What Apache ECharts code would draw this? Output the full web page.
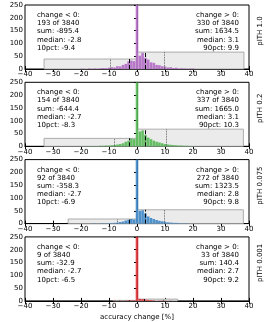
<!DOCTYPE html>
<html><head><meta charset="utf-8">
<script src="https://cdn.jsdelivr.net/npm/echarts@6/dist/echarts.min.js"></script>
<style>html,body{margin:0;padding:0;background:#fff}#c{width:269px;height:322px}</style>
</head><body><div id="c"></div>
<script>
// ---- data ----
var panelNames = ['pITH 1.0', 'pITH 0.2', 'pITH 0.075', 'pITH 0.001'];
var binCenters = [-20,-19,-18,-17,-16,-15,-14,-13,-12,-11,-10,-9,-8,-7,-6,-5,-4,-3,-2,-1,0,1,2,3,4,5,6,7,8,9,10,11,12,13,14,15,16,17,18,19,20];
var counts1 = [1,1,0,2,1,2,1,3,4,3,5,7,6,11,10,16,20,30,33,31,3317,52,63,44,37,26,24,16,15,11,10,6,7,4,5,2,3,2,1,2,2];
var counts2 = [0,1,0,1,1,1,1,2,2,3,3,4,5,7,9,12,18,22,30,28,3349,58,62,44,34,28,22,18,15,12,9,7,6,5,4,3,3,2,2,1,1];
var counts3 = [0,0,0,0,0,1,0,1,1,1,2,2,3,4,6,8,12,15,18,16,3476,50,52,40,28,22,18,14,11,9,7,5,4,3,3,2,1,1,1,0,0];
var counts4 = [0,0,0,0,0,0,0,0,0,0,0,0,1,0,1,0,1,2,2,2,3798,8,7,5,4,3,2,0,1,1,1,0,1,0,0,0,0,0,0,0,0];
var allCounts = [counts1, counts2, counts3, counts4];
var negText = [
  ['change < 0:', '193 of 3840', 'sum: -895.4', 'median: -2.8', '10pct: -9.4'],
  ['change < 0:', '154 of 3840', 'sum: -644.4', 'median: -2.7', '10pct: -8.3'],
  ['change < 0:', '92 of 3840', 'sum: -358.3', 'median: -2.7', '10pct: -6.9'],
  ['change < 0:', '9 of 3840', 'sum: -32.9', 'median: -2.7', '10pct: -6.5']
];
var posText = [
  ['change > 0:', '330 of 3840', 'sum: 1634.5', 'median: 3.1', '90pct: 9.9'],
  ['change > 0:', '337 of 3840', 'sum: 1665.0', 'median: 3.1', '90pct: 10.3'],
  ['change > 0:', '272 of 3840', 'sum: 1323.5', 'median: 2.8', '90pct: 9.8'],
  ['change > 0:', '33 of 3840', 'sum: 140.4', 'median: 2.7', '90pct: 9.2']
];
var negMin = [-33.2, -33.2, -24.6, -8.5];
var posMax = [38.2, 38.0, 38.0, 14.5];
var negBoxH = [39, 31, 18, 2];
var posBoxH = [66, 67, 54, 7];
var negMedian = [-2.8, -2.7, -2.7, -2.7];
var posMedian = [3.1, 3.1, 2.8, 2.7];
var pct10 = [-9.4, -8.3, -6.9, -6.5];
var pct90 = [9.9, 10.3, 9.8, 9.2];
var xTicks = [-40, -30, -20, -10, 0, 10, 20, 30, 40];
var yTicks = [0, 50, 100, 150, 200, 250];
var colors = ['#b16cc4', '#56b856', '#3d86c6', '#dd3337'];

// ---- layout ----
var FONT = 'DejaVu Sans';
var gridLeft = 25, gridRight = 20, gridH = 64, gridTop0 = 5, gridStep = 77.3;

function buildOption() {
  var grids = [], xAxes = [], yAxes = [], series = [], graphics = [];
  function fmtMinus(v){ return String(v).replace('-', '\u2212'); }
  for (var i = 0; i < 4; i++) {
    var gTop = gridTop0 + gridStep * i;
    grids.push({left: gridLeft, right: gridRight, top: gTop, height: gridH,
      show: true, borderColor: '#000', borderWidth: 1});
    xAxes.push({type: 'value', gridIndex: i, min: xTicks[0], max: xTicks[xTicks.length-1], interval: 10,
      position: 'bottom', axisLine: {show: true, onZero: false, lineStyle: {color: '#000'}},
      axisTick: {show: true, inside: true, length: 3, lineStyle: {color: '#000'}},
      axisLabel: {show: true, fontFamily: FONT, fontSize: 7, color: '#000', margin: 2, formatter: fmtMinus},
      splitLine: {show: false}});
    xAxes.push({type: 'value', gridIndex: i, min: xTicks[0], max: xTicks[xTicks.length-1], interval: 10,
      position: 'top', axisLine: {show: false},
      axisTick: {show: true, inside: true, length: 3, lineStyle: {color: '#000'}},
      axisLabel: {show: false}, splitLine: {show: false}});
    yAxes.push({type: 'value', gridIndex: i, min: yTicks[0], max: yTicks[yTicks.length-1], interval: 50,
      axisLine: {show: true, lineStyle: {color: '#000'}},
      axisTick: {show: true, inside: false, length: 3, lineStyle: {color: '#000'}},
      axisLabel: {show: true, fontFamily: FONT, fontSize: 7, color: '#000', margin: 2},
      splitLine: {show: false}});

    var cnt = allCounts[i];
    var barData = binCenters.map(function(c, k){ return [c, cnt[k]]; });

    series.push({type: 'line', xAxisIndex: 2*i, yAxisIndex: i, data: [], z: 1, silent: true,
      markArea: {silent: true, itemStyle: {color: '#ebebeb', borderColor: '#9a9a9a', borderWidth: 0.8},
        data: [[{coord: [negMin[i], 0]}, {coord: [0, negBoxH[i]]}],
               [{coord: [0, 0]}, {coord: [posMax[i], posBoxH[i]]}]]}});
    series.push({type: 'bar', xAxisIndex: 2*i, yAxisIndex: i, data: barData, barWidth: 2.6,
      clip: true, z: 2, silent: true, itemStyle: {color: colors[i], opacity: 0.9}});
    series.push({type: 'line', xAxisIndex: 2*i, yAxisIndex: i, data: [], z: 3, silent: true,
      markLine: {silent: true, symbol: ['none', 'none'], label: {show: false},
        data: [
          [{coord: [negMedian[i], 0], lineStyle: {type: 'dashed', color: '#000', width: 1}}, {coord: [negMedian[i], negBoxH[i]]}],
          [{coord: [posMedian[i], 0], lineStyle: {type: 'dashed', color: '#000', width: 1}}, {coord: [posMedian[i], posBoxH[i]]}],
          [{coord: [pct10[i], 0], lineStyle: {type: 'dotted', color: '#444', width: 0.8}}, {coord: [pct10[i], negBoxH[i]]}],
          [{coord: [pct90[i], 0], lineStyle: {type: 'dotted', color: '#444', width: 0.8}}, {coord: [pct90[i], posBoxH[i]]}]
        ]}});

    graphics.push({type: 'text', x: 37, y: gTop + 6, silent: true,
      style: {text: negText[i].join('\n'), font: '7px ' + FONT, fill: '#000', lineHeight: 8.2, align: 'left', verticalAlign: 'top'}});
    graphics.push({type: 'text', x: 239, y: gTop + 6, silent: true,
      style: {text: posText[i].join('\n'), font: '7px ' + FONT, fill: '#000', lineHeight: 8.2, align: 'right', verticalAlign: 'top'}});
    graphics.push({type: 'text', x: 260, y: gTop + gridH / 2 - 6, rotation: Math.PI / 2, silent: true,
      style: {text: panelNames[i], font: '7px ' + FONT, fill: '#000', align: 'center', verticalAlign: 'middle'}});
  }
  graphics.push({type: 'text', x: 137, y: 317, silent: true,
    style: {text: 'accuracy change [%]', font: '7px ' + FONT, fill: '#000', align: 'center', verticalAlign: 'middle'}});
  return {animation: false, grid: grids, xAxis: xAxes, yAxis: yAxes, series: series, graphic: graphics};
}

var chart = echarts.init(document.getElementById('c'), null, {renderer: 'canvas'});
chart.setOption(buildOption());
</script></body></html>
